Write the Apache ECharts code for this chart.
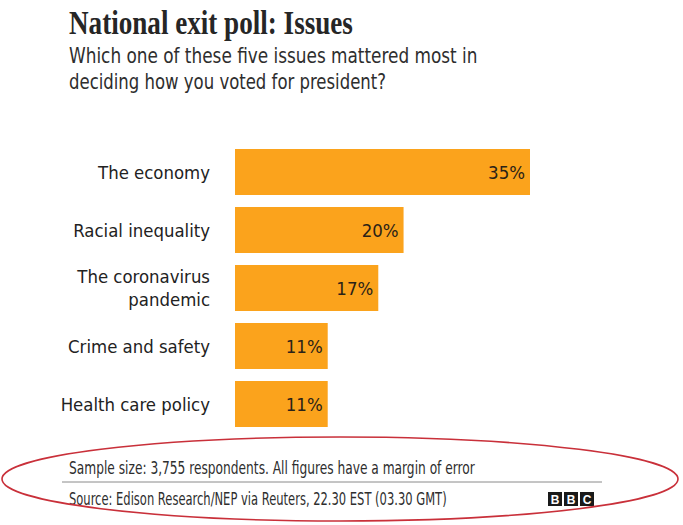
<!DOCTYPE html>
<html>
<head>
<meta charset="utf-8">
<script src="https://cdn.jsdelivr.net/npm/echarts@6/dist/echarts.min.js"></script>
<style>
html,body{margin:0;padding:0;background:#fff;}
#chart{width:683px;height:525px;}
</style>
</head>
<body>
<div id="chart"></div>
<script>
// ---- data ----
var categories = ['The economy', 'Racial inequality', 'The coronavirus\npandemic', 'Crime and safety', 'Health care policy'];
var values = [35, 20, 17, 11, 11];
var titleText = 'National exit poll: Issues';
var subtitleLines = ['Which one of these five issues mattered most in', 'deciding how you voted for president?'];
var noteText = 'Sample size: 3,755 respondents. All figures have a margin of error';
var sourceText = 'Source: Edison Research/NEP via Reuters, 22.30 EST (03.30 GMT)';
var logoLetters = ['B', 'B', 'C'];

// ---- helpers ----
var mctx = document.createElement('canvas').getContext('2d');
function hasFont(name) {
  var s = 'Health care policy 0123 WMmwil';
  mctx.font = '40px monospace';
  var a = mctx.measureText(s).width;
  mctx.font = '40px "' + name + '", monospace';
  var b = mctx.measureText(s).width;
  return Math.abs(a - b) > 0.5;
}
var narrowCandidates = ['Liberation Sans Narrow', 'DejaVu Sans Condensed', 'Open Sans Condensed', 'Roboto Condensed', 'Noto Sans Condensed'];
var NARROW_NAME = 'Liberation Sans';
for (var i = 0; i < narrowCandidates.length; i++) {
  if (hasFont(narrowCandidates[i])) { NARROW_NAME = narrowCandidates[i]; break; }
}
var NARROW = '"' + NARROW_NAME + '", "Liberation Sans", sans-serif';
var SERIF = '"Liberation Serif", serif';
function widthAt(text, font, size, weight) {
  mctx.font = (weight || 'normal') + ' ' + size + 'px ' + font;
  return mctx.measureText(text).width;
}
var labelSize = Math.min(20, 1.06 * 20 * 141 / widthAt('Health care policy', NARROW, 20));
var valueSize = Math.min(20, 1.12 * 20 * 33 / widthAt('35%', NARROW, 20));

function fitText(text, font, x, y, targetWidth, size, color, weight) {
  var w = weight || 'normal';
  var mw = widthAt(text, font, size, w);
  return {
    type: 'text', x: x, y: y, scaleX: targetWidth / mw, silent: true,
    style: { text: text, x: 0, y: 0, fill: color, font: w + ' ' + size + 'px ' + font, verticalAlign: 'middle', align: 'left' }
  };
}

var graphics = [];
graphics.push(fitText(titleText, SERIF, 69, 23, 284, 33, '#262626', 'bold'));
graphics.push(fitText(subtitleLines[0], NARROW, 69, 55, 409, 22, '#2e2e2e'));
graphics.push(fitText(subtitleLines[1], NARROW, 69, 81, 317, 22, '#2e2e2e'));
graphics.push(fitText(noteText, NARROW, 69, 468, 406, 18, '#2e2e2e'));
graphics.push(fitText(sourceText, NARROW, 69, 499, 378, 18, '#2e2e2e'));
graphics.push({ type: 'line', silent: true, shape: { x1: 62, y1: 482, x2: 602, y2: 482 }, style: { stroke: '#8a8a8a', lineWidth: 1 } });
logoLetters.forEach(function (l, i) {
  graphics.push({ type: 'rect', silent: true, shape: { x: 548 + i * 16, y: 492, width: 14, height: 14 }, style: { fill: '#1a1a1a' } });
  graphics.push({ type: 'text', silent: true, x: 555 + i * 16, y: 499.5, style: { text: l, fill: '#ffffff', font: 'bold 12px "Liberation Sans", sans-serif', align: 'center', verticalAlign: 'middle' } });
});
graphics.push({ type: 'ellipse', silent: true, shape: { cx: 340, cy: 479, rx: 338, ry: 42 }, style: { fill: 'none', stroke: '#c9303a', lineWidth: 1.6 } });

var chart = echarts.init(document.getElementById('chart'), null, { renderer: 'svg' });
chart.setOption({
  animation: false,
  backgroundColor: '#ffffff',
  grid: { left: 235, top: 143, width: 337.14, height: 290, containLabel: false },
  xAxis: { type: 'value', min: 0, max: 40, show: false },
  yAxis: {
    type: 'category', data: categories, inverse: true,
    axisLine: { show: false }, axisTick: { show: false }, splitLine: { show: false },
    axisLabel: { margin: 25, color: '#222222', fontSize: labelSize, fontFamily: NARROW, lineHeight: 23, align: 'right' }
  },
  series: [{
    type: 'bar', data: values, barWidth: 46,
    itemStyle: { color: '#FBA31C' },
    label: { show: true, position: 'insideRight', distance: 5, formatter: '{c}%', color: '#2a2217', fontSize: valueSize, fontFamily: NARROW }
  }],
  graphic: graphics
});
</script>
</body>
</html>
